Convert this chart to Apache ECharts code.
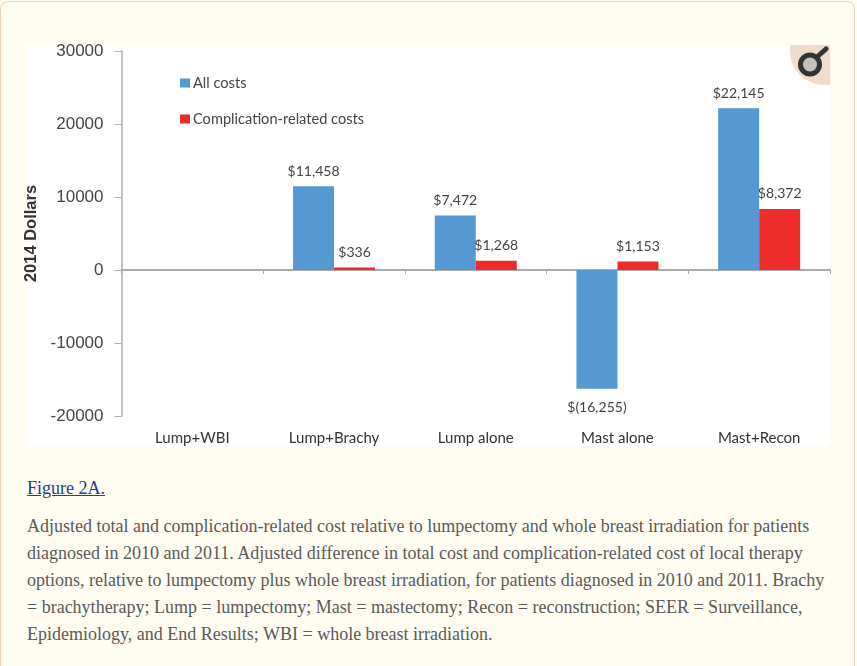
<!DOCTYPE html>
<html>
<head>
<meta charset="utf-8">
<style>
html,body{margin:0;padding:0;width:857px;height:666px;overflow:hidden;background:#fffdf2;}
#frame{position:absolute;left:0;top:1px;width:855px;height:700px;border:1px solid #ecd3b8;border-radius:8px;box-sizing:border-box;background:#fffdf2;}
#white{position:absolute;left:27px;top:45px;width:803px;height:401px;background:#fff;}
#chart{position:absolute;left:0;top:0;width:857px;height:460px;}
#fig{position:absolute;left:27px;top:478px;font:18px/20px "Liberation Serif",serif;color:#23408f;text-decoration:underline;}
#cap{position:absolute;left:27px;top:513px;width:825px;font:18px/27px "Liberation Serif",serif;color:#5a5a5a;white-space:nowrap;}
</style>
</head>
<body>
<div id="frame"></div>
<div id="white"></div>
<div id="chart"></div>
<div id="fig">Figure 2A.</div>
<div id="cap">Adjusted total and complication-related cost relative to lumpectomy and whole breast irradiation for patients<br>diagnosed in 2010 and 2011. Adjusted difference in total cost and complication-related cost of local therapy<br>options, relative to lumpectomy plus whole breast irradiation, for patients diagnosed in 2010 and 2011. Brachy<br>= brachytherapy; Lump = lumpectomy; Mast = mastectomy; Recon = reconstruction; SEER = Surveillance,<br>Epidemiology, and End Results; WBI = whole breast irradiation.</div>
<script src="https://cdn.jsdelivr.net/npm/echarts@6/dist/echarts.min.js"></script>
<script>
const categories = ["Lump+WBI", "Lump+Brachy", "Lump alone", "Mast alone", "Mast+Recon"];
const allCosts = [0, 11458, 7472, -16255, 22145];
const complicationCosts = [0, 336, 1268, 1153, 8372];
const seriesNames = ["All costs", "Complication-related costs"];
const yTitle = "2014 Dollars";

function money(v) {
  if (!v) return "";
  const s = Math.abs(v).toLocaleString("en-US");
  return v < 0 ? "$(" + s + ")" : "$" + s;
}
const labelStyle = { show: true, fontFamily: "Lato", fontSize: 14, color: "#444", distance: 8,
  formatter: p => money(p.value) };
function build(values) {
  return values.map(v => ({ value: v, label: v < 0 ? { position: "bottom", distance: 12 } : { position: "top" } }));
}
const chart = echarts.init(document.getElementById("chart"), null, { renderer: "canvas" });
chart.setOption({
  animation: false,
  backgroundColor: "transparent",
  grid: { left: 121.5, top: 51, width: 708.5, height: 365 },
  legend: {
    orient: "vertical", left: 175, top: 70, itemWidth: 10, itemHeight: 9, itemGap: 20,
    selectedMode: false, icon: "rect",
    textStyle: { fontFamily: "Lato", fontSize: 14.6, color: "#444", padding: [0, 0, 0, -2], lineHeight: 16 },
    data: seriesNames
  },
  xAxis: [
    { type: "category", data: categories, position: "bottom",
      axisLine: { onZero: true, lineStyle: { color: "#ababab", width: 2 } },
      axisTick: { show: true, length: 4, inside: false, lineStyle: { color: "#ababab" } },
      axisLabel: { show: false } },
    { type: "category", data: categories, position: "bottom",
      axisLine: { show: false, onZero: false }, axisTick: { show: false },
      axisLabel: { show: true, margin: 15, fontFamily: "Lato", fontSize: 15, color: "#333" } }
  ],
  yAxis: {
    type: "value", min: -20000, max: 30000, interval: 10000,
    name: yTitle, nameLocation: "middle", nameGap: 75, nameRotate: 90,
    nameTextStyle: { fontFamily: "Liberation Sans", fontSize: 16.5, fontWeight: "bold", color: "#333" },
    axisLine: { show: true, onZero: false, lineStyle: { color: "#c4c4c4", width: 2 } },
    axisTick: { show: true, length: 7, lineStyle: { color: "#b0b0b0" } },
    axisLabel: { margin: 18, fontFamily: "Liberation Sans", fontSize: 17, color: "#444", formatter: v => String(v) },
    splitLine: { show: false }
  },
  series: [
    { name: seriesNames[0], type: "bar", data: build(allCosts), barWidth: 41, barGap: 0,
      itemStyle: { color: "#5598d2" }, label: labelStyle },
    { name: seriesNames[1], type: "bar", data: build(complicationCosts), barWidth: 41, barGap: 0,
      itemStyle: { color: "#ec2b2b" }, label: labelStyle }
  ],
  graphic: [
    { type: "rect", shape: { x: 790, y: 45, width: 40, height: 40, r: [0, 0, 0, 34] },
      style: { fill: "#f0dccd" }, silent: true },
    { type: "circle", shape: { cx: 810, cy: 64.5, r: 9.5 },
      style: { fill: "#c4c0bb", stroke: "#333", lineWidth: 5 }, silent: true },
    { type: "line", shape: { x1: 817, y1: 57, x2: 826, y2: 49 },
      style: { stroke: "#333", lineWidth: 5, lineCap: "round" }, silent: true }
  ]
});
</script>
</body>
</html>
